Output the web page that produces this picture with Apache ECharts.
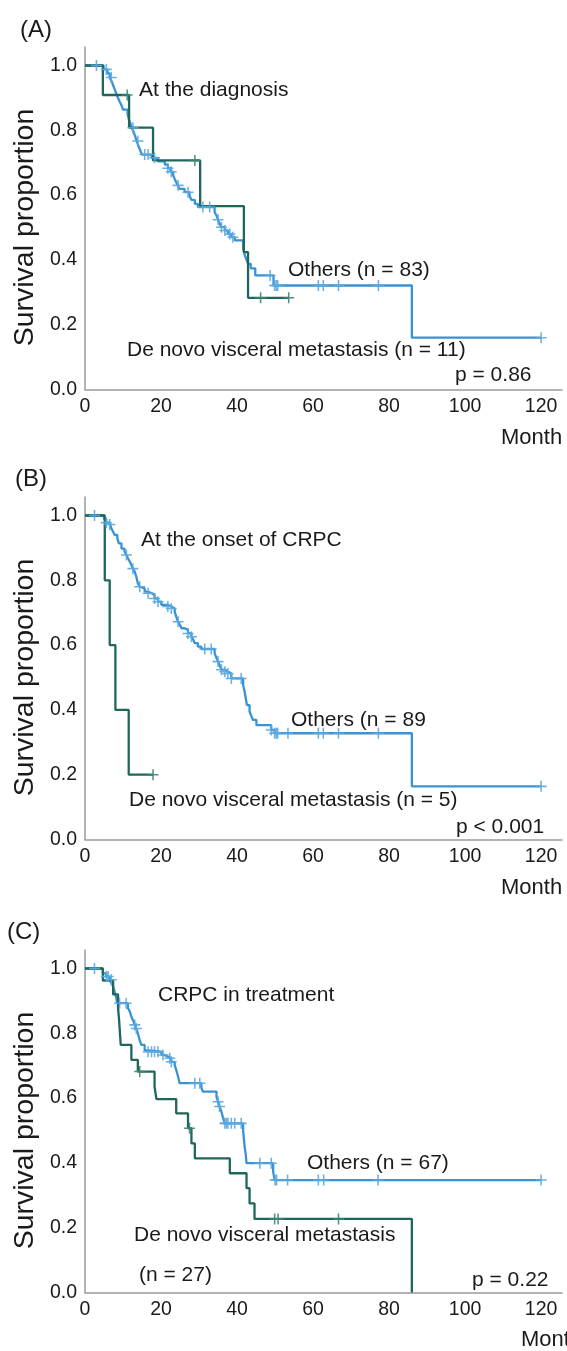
<!DOCTYPE html>
<html><head><meta charset="utf-8">
<script src="https://cdn.jsdelivr.net/npm/echarts@6/dist/echarts.min.js"></script>
<style>html,body{margin:0;padding:0;background:#fff}#c{width:567px;height:1351px}</style>
</head><body><div id="c"></div>
<script>
// ---------- data ----------
const monthTicks = [0, 20, 40, 60, 80, 100, 120];
const survTicks = [0, 0.2, 0.4, 0.6, 0.8, 1.0];

// Panel A: At the diagnosis
const aOthersSteps = [[0,1],[4.9,0.988],[5.9,0.976],[6.5,0.963],[7.0,0.951],[7.4,0.939],[7.8,0.927],[8.2,0.914],[8.6,0.902],[9.1,0.889],[9.6,0.877],[10.0,0.864],[11.2,0.850],[11.5,0.836],[11.9,0.822],[12.3,0.808],[12.8,0.795],[13.2,0.781],[13.6,0.767],[14.0,0.753],[14.5,0.739],[15.0,0.725],[17.5,0.715],[19.2,0.704],[21.0,0.694],[21.8,0.683],[22.5,0.672],[23.2,0.661],[23.6,0.650],[24.0,0.640],[24.4,0.630],[24.9,0.619],[26.2,0.609],[27.5,0.598],[28.0,0.585],[28.9,0.573],[29.7,0.563],[34.1,0.547],[34.6,0.537],[35.0,0.524],[35.4,0.512],[35.9,0.501],[36.8,0.491],[37.6,0.480],[38.5,0.470],[39.4,0.460],[41.6,0.436],[42.0,0.416],[42.5,0.400],[42.9,0.388],[43.6,0.374],[44.8,0.352],[49.6,0.321],[86.0,0.160],[120,0.160]];
const aOthersCensor = [3.0,5.6,6.9,12.6,13.9,15.7,16.6,18.3,21.8,22.7,24.5,27.1,31.0,32.8,35.0,35.9,36.8,38.1,38.9,48.7,49.9,50.3,50.7,61.4,62.7,66.7,77.2,120];
const aDenovoSteps = [[0,1],[4.7,0.909],[11.6,0.808],[17.9,0.707],[30.3,0.566],[41.8,0.424],[42.9,0.283],[53.6,0.283]];
const aDenovoCensor = [11.1,28.9,46.2,53.6];

// Panel B: At the onset of CRPC
const bOthersSteps = [[0,1],[5.0,0.989],[5.6,0.978],[6.5,0.972],[6.9,0.961],[7.4,0.950],[7.8,0.940],[8.5,0.930],[8.9,0.914],[9.6,0.898],[10.4,0.888],[10.9,0.878],[11.3,0.868],[11.8,0.857],[12.2,0.847],[12.6,0.836],[13.1,0.826],[13.5,0.811],[13.7,0.801],[13.9,0.791],[14.4,0.780],[14.8,0.775],[15.7,0.765],[16.6,0.760],[17.5,0.755],[18.3,0.744],[19.2,0.734],[20.1,0.724],[21.8,0.719],[22.7,0.713],[23.6,0.703],[24.0,0.688],[24.5,0.672],[25.0,0.662],[25.4,0.652],[26.2,0.647],[27.1,0.636],[28.0,0.626],[28.5,0.616],[28.9,0.606],[29.7,0.595],[30.6,0.588],[34.1,0.575],[34.6,0.560],[35.0,0.549],[35.4,0.539],[35.9,0.524],[36.8,0.518],[37.6,0.512],[38.5,0.497],[41.6,0.477],[42.0,0.456],[42.3,0.436],[42.6,0.415],[43.3,0.395],[43.8,0.380],[44.2,0.369],[45.1,0.353],[49.0,0.338],[49.9,0.328],[86.0,0.164],[120,0.164]];
const bOthersCensor = [2.5,5.6,6.5,10.9,12.6,14.4,16.6,18.3,19.2,21.8,22.7,24.5,27.1,28.0,31.5,33.2,35.0,35.9,36.8,37.6,38.5,41.1,49.0,49.9,50.3,50.7,53.4,61.4,62.7,66.7,77.2,120];
const bDenovoSteps = [[0,1],[5.2,0.8],[6.5,0.6],[8.0,0.4],[11.5,0.2],[17.9,0.2]];
const bDenovoCensor = [17.9];

// Panel C: CRPC in treatment
const cOthersSteps = [[0,1],[4.7,0.985],[5.6,0.975],[6.5,0.965],[7.0,0.955],[7.4,0.944],[7.8,0.928],[8.2,0.910],[8.5,0.893],[11.3,0.878],[11.8,0.867],[12.2,0.851],[12.6,0.841],[13.1,0.826],[13.5,0.815],[13.9,0.800],[14.4,0.779],[14.8,0.764],[15.7,0.748],[16.2,0.743],[20.1,0.733],[21.0,0.728],[21.8,0.723],[22.7,0.712],[23.6,0.702],[24.0,0.687],[24.5,0.666],[24.9,0.646],[30.6,0.633],[31.0,0.620],[34.6,0.604],[35.0,0.589],[35.4,0.574],[35.9,0.558],[36.3,0.540],[36.8,0.522],[41.6,0.500],[41.8,0.476],[42.0,0.450],[42.3,0.425],[42.5,0.399],[49.5,0.373],[49.9,0.347],[120,0.347]];
const cOthersCensor = [2.5,5.6,6.1,6.9,9.1,10.8,13.1,13.5,16.6,17.5,18.3,19.2,20.5,22.3,22.7,28.9,30.2,35.0,35.4,36.8,37.2,37.6,38.5,39.4,41.1,46.0,49.0,50.0,50.4,53.3,61.4,62.8,77.1,120];
const cDenovoSteps = [[0,1],[4.7,0.963],[7.4,0.920],[8.7,0.878],[9.0,0.836],[9.2,0.800],[9.4,0.764],[12.2,0.718],[13.9,0.682],[18.3,0.635],[18.8,0.597],[24.0,0.553],[27.1,0.507],[28.0,0.460],[28.9,0.414],[38.1,0.368],[42.5,0.322],[43.3,0.275],[44.6,0.227],[86.0,0.0]];
const cDenovoCensor = [14.4,27.5,49.9,50.8,66.7];

const panelLabels = ['(A)', '(B)', '(C)'];
const panelTitles = ['At the diagnosis', 'At the onset of CRPC', 'CRPC in treatment'];
const othersLabels = ['Others (n = 83)', 'Others (n = 89', 'Others (n = 67)'];
const denovoLabels = [['De novo visceral metastasis (n = 11)'], ['De novo visceral metastasis (n = 5)'], ['De novo visceral metastasis', '(n = 27)']];
const pLabels = ['p = 0.86', 'p < 0.001', 'p = 0.22'];
const xName = 'Month';
const yName = 'Survival proportion';

// ---------- layout ----------
const FONT = '"Liberation Sans", Arial, sans-serif';
const BLUE = '#3892d4', GREEN = '#1f665b', BLUE_M = '#5aa8e0', GREEN_M = '#3e8578';
const panels = [
  {top: 47, zero: 389.5, steps: [aOthersSteps, aDenovoSteps], cens: [aOthersCensor, aDenovoCensor],
   txt: {lab:[20,30], title:[139,90], oth:[288,270], den:[[127,350]], p:[455,375], month:[501,438]}},
  {top: 497, zero: 839.5, steps: [bOthersSteps, bDenovoSteps], cens: [bOthersCensor, bDenovoCensor],
   txt: {lab:[15,479], title:[141,540], oth:[291,720], den:[[129,800]], p:[456,827], month:[501,888]}},
  {top: 950, zero: 1292.5, steps: [cOthersSteps, cDenovoSteps], cens: [cOthersCensor, cDenovoCensor],
   txt: {lab:[7,932], title:[158,995], oth:[307,1163], den:[[134,1235],[139,1275]], p:[472,1280], month:[521,1340]}}
];
const PX_PER_UNIT = 324; // pixels per survival 1.0
const X_MAX = 125.5;

function stepValue(steps, m) {
  let v = steps[0][1];
  for (const s of steps) { if (s[0] <= m) v = s[1]; }
  return v;
}
const plus = 'path://M0,4.3H10V5.7H0Z M4.3,0H5.7V10H4.3Z';

const grids = [], xAxes = [], yAxes = [], series = [], graphics = [];
panels.forEach((p, i) => {
  const h = p.zero - p.top;
  grids.push({left: 85, top: p.top, width: 477, height: h, containLabel: false, outerBoundsMode: 'none'});
  xAxes.push({
    type: 'value', gridIndex: i, min: 0, max: X_MAX, interval: 20,
    axisLine: {show: true, onZero: false, lineStyle: {color: '#9a9a9a', width: 1.5}},
    axisTick: {show: false}, splitLine: {show: false},
    axisLabel: {show: true, showMaxLabel: false, margin: 7, color: '#1a1a1a', fontFamily: FONT, fontSize: 19.5,
      formatter: v => monthTicks.includes(v) ? String(v) : ''}
  });
  yAxes.push({
    type: 'value', gridIndex: i, min: 0, max: h / PX_PER_UNIT, interval: 0.2,
    axisLine: {show: true, onZero: false, lineStyle: {color: '#9a9a9a', width: 1.5}},
    axisTick: {show: false}, splitLine: {show: false},
    axisLabel: {show: true, showMaxLabel: false, margin: 8, color: '#1a1a1a', fontFamily: FONT, fontSize: 19.5,
      formatter: v => survTicks.some(t => Math.abs(t - v) < 1e-6) ? v.toFixed(1) : ''}
  });
  const cols = [BLUE, GREEN], mcols = [BLUE_M, GREEN_M];
  [0, 1].forEach(k => {
    series.push({
      type: 'line', xAxisIndex: i, yAxisIndex: i, step: 'end', symbol: 'none', silent: true,
      data: p.steps[k], lineStyle: {color: cols[k], width: 2.3}, z: 2 + k, animation: false
    });
  });
  [0, 1].forEach(k => {
    series.push({
      type: 'scatter', xAxisIndex: i, yAxisIndex: i, symbol: plus, symbolSize: 11, silent: true,
      data: p.cens[k].map(m => [m, stepValue(p.steps[k], m)]),
      itemStyle: {color: mcols[k], opacity: 0.9}, z: 4 + k, animation: false
    });
  });
  const t = p.txt;
  const txt = (s, x, y, size, align) => graphics.push({type: 'text', x, y,
    style: {text: s, fill: '#1a1a1a', font: size + 'px ' + FONT, align: align || 'left', verticalAlign: 'middle'}});
  txt(panelLabels[i], t.lab[0], t.lab[1], 24);
  txt(panelTitles[i], t.title[0], t.title[1], 21);
  txt(othersLabels[i], t.oth[0], t.oth[1], 21);
  denovoLabels[i].forEach((s, j) => txt(s, t.den[j][0], t.den[j][1], 21));
  txt(pLabels[i], t.p[0], t.p[1], 21);
  txt(xName, t.month[0], t.month[1], 22);
  graphics.push({type: 'text', x: 25, y: (p.top + 18.5 + p.zero) / 2, rotation: Math.PI / 2,
    style: {text: yName, fill: '#1a1a1a', font: '28.5px ' + FONT, align: 'center', verticalAlign: 'middle'}});
});

const chart = echarts.init(document.getElementById('c'), null, {renderer: 'canvas'});
chart.setOption({
  animation: false, backgroundColor: '#ffffff',
  grid: grids, xAxis: xAxes, yAxis: yAxes, series: series, graphic: graphics
});
</script>
</body></html>
